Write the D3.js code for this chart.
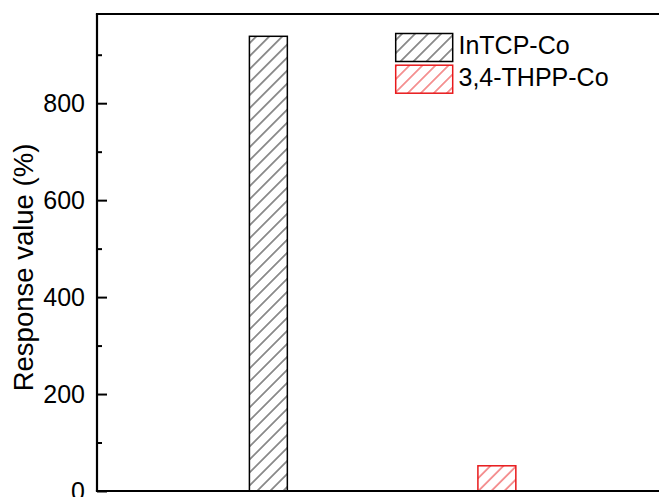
<!DOCTYPE html>
<html>
<head>
<meta charset="utf-8">
<script src="https://cdn.jsdelivr.net/npm/d3@7/dist/d3.min.js"></script>
<style>
html,body{margin:0;padding:0;background:#fff;}
svg{display:block;}
text{font-family:"Liberation Sans",Arial,sans-serif;}
</style>
</head>
<body>
<script>
const categories = ["InTCP-Co", "3,4-THPP-Co"];
const positions = [1, 2];
const values = [938, 52];
const colors = ["#000000", "#e8191b"];
const majorTicks = [0, 200, 400, 600, 800];
const minorTicks = [100, 300, 500, 700, 900];
const yTitle = "Response value (%)";

const W = 659, H = 497;
const svg = d3.select("body").append("svg").attr("width", W).attr("height", H);

const mLeft = 97, mTop = 14, mBottom = 491;
const x = d3.scaleLinear().domain([0.25, 2.75]).range([mLeft, mLeft + 2.5 * 228.5]);
const y = d3.scaleLinear().domain([0, 984]).range([mBottom, mTop]);
const barW = x(1.083) - x(0.917);

const defs = svg.append("defs");
colors.forEach((c, i) => {
  const p = defs.append("pattern").attr("id", "hatch" + i)
    .attr("patternUnits", "userSpaceOnUse")
    .attr("width", 9.2).attr("height", 9.2)
    .attr("patternTransform", "rotate(45)");
  p.append("line").attr("x1", 4.6).attr("y1", 0).attr("x2", 4.6).attr("y2", 9.2)
    .attr("stroke", c).attr("stroke-width", 1).attr("stroke-opacity", i === 0 ? 0.85 : 0.9);
});

// bars
svg.selectAll("rect.bar").data(values).enter().append("rect")
  .attr("class", "bar")
  .attr("x", (d, i) => x(positions[i]) - barW / 2)
  .attr("y", d => y(d))
  .attr("width", barW)
  .attr("height", d => y(0) - y(d))
  .attr("fill", (d, i) => `url(#hatch${i})`)
  .attr("stroke", (d, i) => colors[i])
  .attr("stroke-width", 1.5);

// y axis (ticks inside)
const yAxis = d3.axisRight(y).tickValues(majorTicks).tickSize(10).tickFormat("");
const ga = svg.append("g").attr("transform", `translate(${mLeft},0)`).call(yAxis);
ga.select(".domain").remove();
ga.selectAll(".tick line").attr("stroke", "#000").attr("stroke-width", 2);
const yMinor = d3.axisRight(y).tickValues(minorTicks).tickSize(5).tickFormat("");
const gm = svg.append("g").attr("transform", `translate(${mLeft},0)`).call(yMinor);
gm.select(".domain").remove();
gm.selectAll(".tick line").attr("stroke", "#000").attr("stroke-width", 2);

// tick labels
svg.append("g").selectAll("text").data(majorTicks).enter().append("text")
  .attr("x", 85).attr("y", d => y(d))
  .attr("dy", "0.36em")
  .attr("text-anchor", "end")
  .attr("font-size", 25)
  .attr("fill", "#000")
  .text(d => d3.format("d")(d));

// frame lines
svg.append("line").attr("x1", mLeft).attr("x2", mLeft).attr("y1", mTop).attr("y2", mBottom)
  .attr("stroke", "#000").attr("stroke-width", 2.2);
svg.append("line").attr("x1", mLeft - 1.1).attr("x2", W).attr("y1", mTop).attr("y2", mTop)
  .attr("stroke", "#000").attr("stroke-width", 2.2);
svg.append("line").attr("x1", mLeft - 1.1).attr("x2", W).attr("y1", mBottom).attr("y2", mBottom)
  .attr("stroke", "#000").attr("stroke-width", 2.2);

// y title
svg.append("text")
  .attr("transform", `translate(33,${(143 + 392) / 2}) rotate(-90)`)
  .attr("text-anchor", "middle")
  .attr("font-size", 27.5)
  .attr("fill", "#000")
  .text(yTitle);

// legend
const lg = svg.append("g");
categories.forEach((c, i) => {
  const by = 33.5 + i * 31.7;
  lg.append("rect").attr("x", 395.7).attr("y", by).attr("width", 57).attr("height", 28)
    .attr("fill", `url(#hatch${i})`).attr("stroke", colors[i]).attr("stroke-width", 1.5);
  lg.append("text").attr("x", 458.5).attr("y", by + 20.5)
    .attr("font-size", 25).attr("fill", "#000").text(c);
});
</script>
</body>
</html>
